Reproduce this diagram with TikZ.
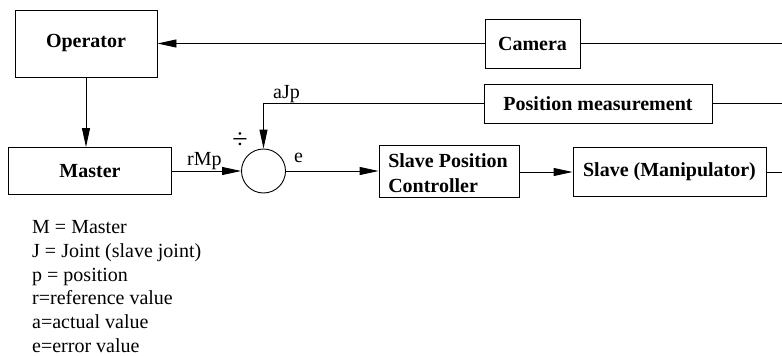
\documentclass[tikz,border=0pt]{standalone}
\usepackage{fontspec}
\setmainfont{Liberation Serif}
\usetikzlibrary{arrows.meta}
\begin{document}
\begin{tikzpicture}[x=1pt,y=-1pt,
  bfont/.style={font=\fontsize{20}{25}\selectfont\bfseries},
  blk/.style={bfont, draw, line width=0.9pt, inner sep=0pt},
  wire/.style={line width=0.9pt},
  arr/.style={wire,-{Triangle[length=19pt,width=8pt]}},
  lbl/.style={font=\fontsize{20}{23}\selectfont, inner sep=0pt, anchor=base west}]
\useasboundingbox (0,0) rectangle (782,356);

% blocks
\node[blk, minimum width=142, minimum height=67] (op) at (86,43.5) {Operator};
\node[blk, minimum width=163, minimum height=47] (master) at (90,171) {Master};
\node[blk, minimum width=95, minimum height=49] (cam) at (532.5,43.5) {Camera};
\node[blk, minimum width=228, minimum height=39] (pos) at (598,103.5) {Position measurement};
\node[circle, draw, line width=0.9pt, minimum size=44, inner sep=0pt] (sum) at (263.5,171) {};
\node[blk, minimum width=140, minimum height=52] (spc) at (449,171) {};
\node[bfont, inner sep=0pt, align=left] (spctext) at (448,173) {Slave Position\\Controller};
\node[blk, minimum width=193, minimum height=49] (slave) at (669.5,172) {Slave (Manipulator)};

% free ends at the right border
\coordinate (rcam) at (782,43.5);
\coordinate (rpos) at (782,103.5);
\coordinate (rslave) at (782,172);

% connectors
\draw[wire] (rcam) -- (cam.east);
\draw[arr] (cam.west) -- (op.east);
\draw[arr] (op.south) -- (op.south |- master.north);
\draw[arr] (master.east) -- (sum.west);
\draw[wire] (rpos) -- (pos.east);
\draw[arr] (pos.west) -- (sum.north |- pos.west) -- (sum.north);
\draw[arr] (sum.east) -- (spc.west);
\draw[arr] (spc.east |- slave.west) -- (slave.west);
\draw[wire] (slave.east) -- (rslave);

% signal labels
\node[lbl] (lrmp) at (187,165) {rMp};
\node[lbl] (lajp) at (273,98) {aJp};
\node[lbl] (le) at (294,162) {e};
\node[font=\fontsize{28}{28}\selectfont, inner sep=0pt] (ldiv) at (240,141) {÷};

% legend
\node[lbl] (leg1) at (32,233) {M = Master};
\node[lbl] (leg2) at (32,257) {J = Joint (slave joint)};
\node[lbl] (leg3) at (32,281) {p = position};
\node[lbl] (leg4) at (32,304) {r=reference value};
\node[lbl] (leg5) at (32,328) {a=actual value};
\node[lbl] (leg6) at (32,352) {e=error value};
\end{tikzpicture}
\end{document}
